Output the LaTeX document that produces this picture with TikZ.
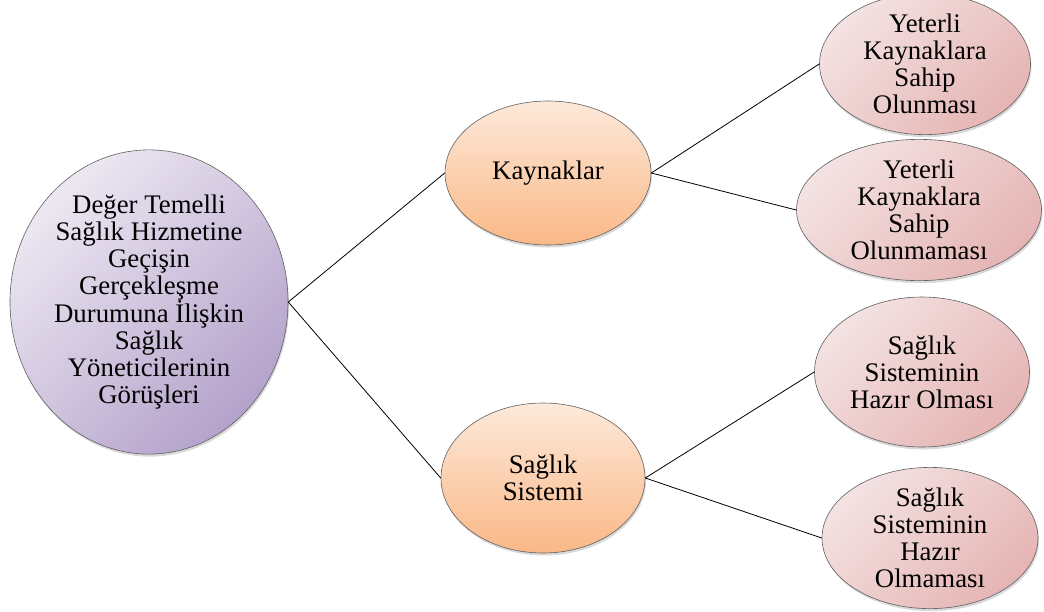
\documentclass[tikz,border=0pt]{standalone}
\usepackage{fontspec}
\setmainfont{Liberation Serif}
\usetikzlibrary{shapes, positioning, shadows}

\definecolor{rootlight}{HTML}{EDE8F2}
\definecolor{rootdark}{HTML}{B4A2CB}
\definecolor{midlight}{HTML}{FDE9DA}
\definecolor{middark}{HTML}{FAB887}
\definecolor{leaflight}{HTML}{F4E2E2}
\definecolor{leafdark}{HTML}{E5B5B4}

\begin{document}
\begin{tikzpicture}[x=1pt, y=-1pt, font=\fontsize{26.8}{27}\selectfont,
	bubble/.style={ellipse, draw=gray!75!black, line width=0.6pt, align=center, inner sep=0pt,
		drop shadow={opacity=0.3, shadow xshift=1pt, shadow yshift=-2.5pt}},
	topic/.style={bubble, top color=rootlight, bottom color=rootdark, shading angle=45},
	theme/.style={bubble, top color=midlight, bottom color=middark},
	leaf/.style={bubble, top color=leaflight, bottom color=leafdark, shading angle=45},
	link/.style={draw, line width=0.8pt}]
	\useasboundingbox (0,0) rectangle (1044,611);
	\node[topic, minimum width=278, minimum height=266] (root) at (149,302)
		{Değer Temelli\\Sağlık Hizmetine\\Geçişin\\Gerçekleşme\\Durumuna İlişkin\\Sağlık\\Yöneticilerinin\\Görüşleri};
	\node[theme, minimum width=206, minimum height=144] (kaynak) at (548,173) {Kaynaklar};
	\node[theme, minimum width=204, minimum height=150] (sistem) at (543,478) {Sağlık\\Sistemi};
	\node[leaf, minimum width=211, minimum height=122] (kvar) at (925,64) {Yeterli\\Kaynaklara\\Sahip\\Olunması};
	\node[leaf, minimum width=245, minimum height=134] (kyok) at (919,210) {Yeterli\\Kaynaklara\\Sahip\\Olunmaması};
	\node[leaf, minimum width=215, minimum height=150] (shazir) at (922,372) {Sağlık\\Sisteminin\\Hazır Olması};
	\node[leaf, minimum width=216, minimum height=136] (shazirdegil) at (930,538) {Sağlık\\Sisteminin\\Hazır\\Olmaması};
	\draw[link] (root.east) -- (kaynak.west);
	\draw[link] (root.east) -- (sistem.west);
	\draw[link] (kaynak.east) -- (kvar.west);
	\draw[link] (kaynak.east) -- (kyok.west);
	\draw[link] (sistem.east) -- (shazir.west);
	\draw[link] (sistem.east) -- (shazirdegil.west);
\end{tikzpicture}
\end{document}
